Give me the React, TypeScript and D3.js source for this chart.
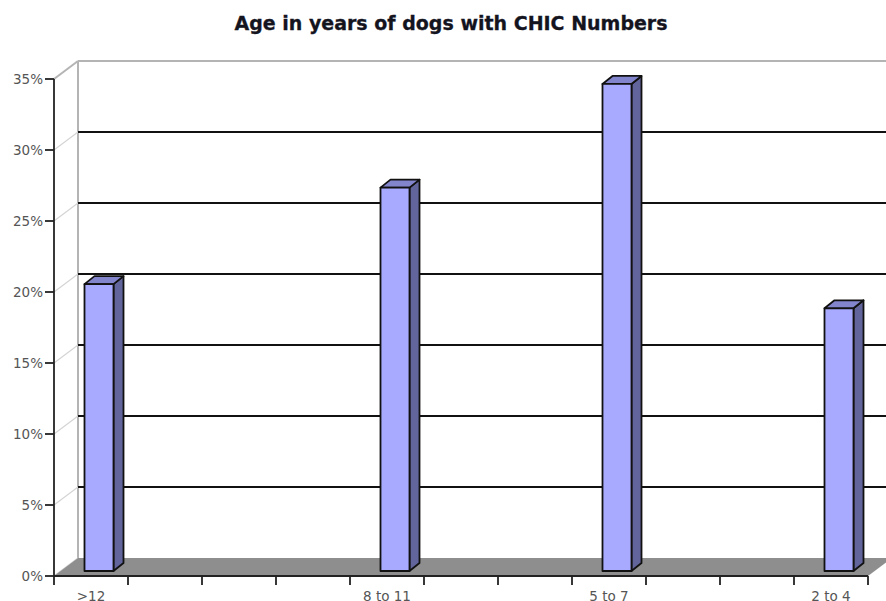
import React from "react";
import * as d3 from "d3";

const categories = [">12", "a", "b", "c", "8 to 11", "d", "e", "5 to 7", "f", "g", "2 to 4"];
const barCategories = [">12", "8 to 11", "5 to 7", "2 to 4"];
const barValues = [20.2, 27.0, 34.3, 18.5];
const yTicks = [0, 5, 10, 15, 20, 25, 30, 35];

const width = 886;
const height = 601;
const depthX = 24;
const depthY = 18;

const x = d3.scaleBand().domain(categories).range([54, 868]);
const y = d3.scaleLinear().domain([0, 35]).range([576, 79]);

const font = "Verdana, 'DejaVu Sans', sans-serif";
const outline = "#111";

const App: React.FC = () => {
	const left = x.range()[0];
	const right = x.range()[1];
	const zero = y(0);
	const top = y(35);
	const barW = 29;
	const barDx = 10;
	const barDy = 8;

	return (
		<svg
			width={width}
			height={height}
			style={{position: "absolute", left: 0, top: 0, background: "#fff"}}
		>
			<text
				x={451}
				y={30}
				textAnchor="middle"
				fontFamily={font}
				fontWeight="bold"
				fontSize={19}
				fill="#14141f"
				stroke="#14141f"
				strokeWidth={0.3}
			>
				Age in years of dogs with CHIC Numbers
			</text>

			{/* Back wall and side wall */}
			<line x1={left + depthX} x2={left + depthX} y1={top - depthY} y2={zero - depthY} stroke="#b4b4b4" strokeWidth={2} />
			<line x1={left + depthX} x2={width} y1={top - depthY} y2={top - depthY} stroke="#b4b4b4" strokeWidth={2} />
			{yTicks.map((t) => (
				<line
					key={`wall-${t}`}
					x1={left}
					x2={left + depthX}
					y1={y(t)}
					y2={y(t) - depthY}
					stroke={t === 35 ? "#b4b4b4" : "#d4d4d4"}
					strokeWidth={t === 35 ? 2 : 1.2}
				/>
			))}

			{/* Grid lines */}
			{yTicks
				.filter((t) => t > 0 && t < 35)
				.map((t) => (
					<line
						key={`grid-${t}`}
						x1={left + depthX}
						x2={width}
						y1={y(t) - depthY}
						y2={y(t) - depthY}
						stroke="#111"
						strokeWidth={1.8}
					/>
				))}

			{/* Floor */}
			<polygon
				points={`${left},${zero} ${left + depthX},${zero - depthY} ${right + depthX},${zero - depthY} ${right},${zero}`}
				fill="#8e8e8e"
			/>

			{/* Bars */}
			{barCategories.map((c, i) => {
				const x0 = (x(c) as number) + x.bandwidth() / 2 - barW / 2 + 8;
				const x1 = x0 + barW;
				const base = zero - 5;
				const yTop = y(barValues[i]) - 5;
				return (
					<g key={c} stroke={outline} strokeWidth={1.8} strokeLinejoin="round">
						<polygon
							points={`${x1},${yTop} ${x1 + barDx},${yTop - barDy} ${x1 + barDx},${base - barDy} ${x1},${base}`}
							fill="#62649c"
						/>
						<polygon
							points={`${x0},${yTop} ${x0 + barDx},${yTop - barDy} ${x1 + barDx},${yTop - barDy} ${x1},${yTop}`}
							fill="#8385cc"
						/>
						<rect x={x0} y={yTop} width={barW} height={base - yTop} fill="#a8aaff" />
					</g>
				);
			})}

			{/* Y axis */}
			<line x1={left} x2={left} y1={top} y2={zero} stroke="#222" strokeWidth={1.8} />
			{yTicks.map((t) => (
				<g key={`y-${t}`}>
					<line x1={left - 9} x2={left} y1={y(t)} y2={y(t)} stroke="#222" strokeWidth={1.8} />
					<text
						x={left - 11}
						y={y(t) + 5}
						textAnchor="end"
						fontFamily={font}
						fontSize={13.5}
						fill="#555"
					>
						{t}%
					</text>
				</g>
			))}

			{/* X axis */}
			<line x1={left} x2={right} y1={zero} y2={zero} stroke="#222" strokeWidth={1.8} />
			{[...categories.map((c) => x(c) as number), right].map((px) => (
				<line key={`x-${px}`} x1={px} x2={px} y1={zero} y2={zero + 9} stroke="#222" strokeWidth={1.8} />
			))}
			{barCategories.map((c) => (
				<text
					key={`label-${c}`}
					x={(x(c) as number) + x.bandwidth() / 2}
					y={601}
					textAnchor="middle"
					fontFamily={font}
					fontSize={13.5}
					fill="#555"
				>
					{c}
				</text>
			))}
		</svg>
	);
};

export default App;
